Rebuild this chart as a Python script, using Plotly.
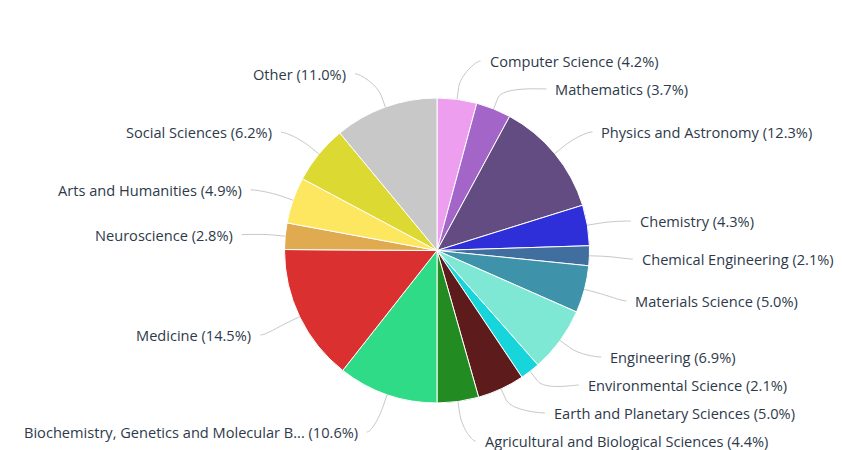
import math
import plotly.graph_objects as go

subjects = [
    "Computer Science", "Mathematics", "Physics and Astronomy", "Chemistry",
    "Chemical Engineering", "Materials Science", "Engineering", "Environmental Science",
    "Earth and Planetary Sciences", "Agricultural and Biological Sciences",
    "Biochemistry, Genetics and Molecular Biology", "Medicine", "Neuroscience",
    "Arts and Humanities", "Social Sciences", "Other",
]
shares = [4.2, 3.7, 12.3, 4.3, 2.1, 5.0, 6.9, 2.1, 5.0, 4.4, 10.6, 14.5, 2.8, 4.9, 6.2, 11.0]
colors = [
    "#EE9EEE", "#A366C8", "#634C82", "#2F2FDA", "#406E9E", "#3E93AA", "#7EE8D4", "#17D6DB",
    "#5E1B1B", "#228B22", "#2FDB87", "#DB3030", "#E0AB50", "#FEE760", "#DCDA32", "#C8C8C8",
]

OFF = 8                      # page body margin
W, H = 842 - OFF, 450 - OFF  # figure size
cx, cy, r = 437, 250.5, 152.5   # page pixel coords
label_r = 190      # radius used for natural label height
x_r = 194          # radius used for label x from its height
gap = 28           # min vertical distance between labels
font_color = "#2E3A4B"


def short(name, n=38):
    return name if len(name) <= 40 else name[:n] + "..."


def spread(items, lo, hi):
    # push labels apart (cluster merging) while keeping them near natural y
    items = sorted(items, key=lambda t: t[1])
    clusters = []
    for idx, y in items:
        clusters.append([y, [(idx, y)]])
        while True:
            c = clusters[-1]
            c[0] = min(max(c[0], lo), hi - gap * (len(c[1]) - 1))
            if len(clusters) > 1:
                p = clusters[-2]
                if p[0] + gap * len(p[1]) > c[0]:
                    merged = p[1] + c[1]
                    start = sum(y0 - gap * k for k, (_, y0) in enumerate(merged)) / len(merged)
                    clusters[-2:] = [[start, merged]]
                    continue
            break
    out = {}
    for start, members in clusters:
        for k, (i, _) in enumerate(members):
            out[i] = start + gap * k
    return out


total = sum(shares)
mids = []
acc = 0
for v in shares:
    mids.append((acc + v / 2) / total * 2 * math.pi)
    acc += v

right = [(i, cy + 2 - label_r * math.cos(t)) for i, t in enumerate(mids) if math.sin(t) >= 0]
left = [(i, cy + 2 - label_r * math.cos(t)) for i, t in enumerate(mids) if math.sin(t) < 0]
ys = {**spread(right, 61, 441), **spread(left, 61, 441)}

px = lambda x: (x - OFF) / W
py = lambda y: 1 - (y - OFF) / H

fig = go.Figure(go.Pie(
    labels=subjects,
    values=shares,
    sort=False,
    direction="clockwise",
    rotation=0,
    textinfo="none",
    marker=dict(colors=colors, line=dict(color="white", width=1)),
    domain=dict(x=[px(cx - r), px(cx + r)], y=[py(cy + r), py(cy - r)]),
    showlegend=False,
))

for i, t in enumerate(mids):
    s = 1 if math.sin(t) >= 0 else -1
    ly = ys[i]
    dy = ly - cy
    ax = cx + s * math.sqrt(max(x_r ** 2 - dy ** 2, 0))
    touch = (cx + r * math.sin(t), cy - r * math.cos(t))
    brk = (cx + (r + 12) * math.sin(t), cy - (r + 12) * math.cos(t))
    ctrl = (2 * brk[0] - touch[0], 2 * brk[1] - touch[1])
    lx = ax + s * 2
    path = (f"M {px(lx):.5f},{py(ly):.5f} "
            f"C {px(lx - s * 5):.5f},{py(ly):.5f} {px(ctrl[0]):.5f},{py(ctrl[1]):.5f} "
            f"{px(brk[0]):.5f},{py(brk[1]):.5f} L {px(touch[0]):.5f},{py(touch[1]):.5f}")
    fig.add_shape(type="path", path=path, xref="paper", yref="paper",
                  line=dict(color="#C8C8C8", width=1))
    fig.add_annotation(
        x=px(ax + s * 9), y=py(ly), xref="paper", yref="paper",
        text=f"{short(subjects[i])} ({shares[i]:.1f}%)",
        showarrow=False, xanchor="left" if s > 0 else "right", yanchor="middle",
        font=dict(family="Open Sans", size=14.6, color=font_color),
    )

fig.update_layout(
    width=W, height=H,
    margin=dict(l=0, r=0, t=0, b=0),
    paper_bgcolor="white",
    plot_bgcolor="white",
)
fig.write_html("out.html")
